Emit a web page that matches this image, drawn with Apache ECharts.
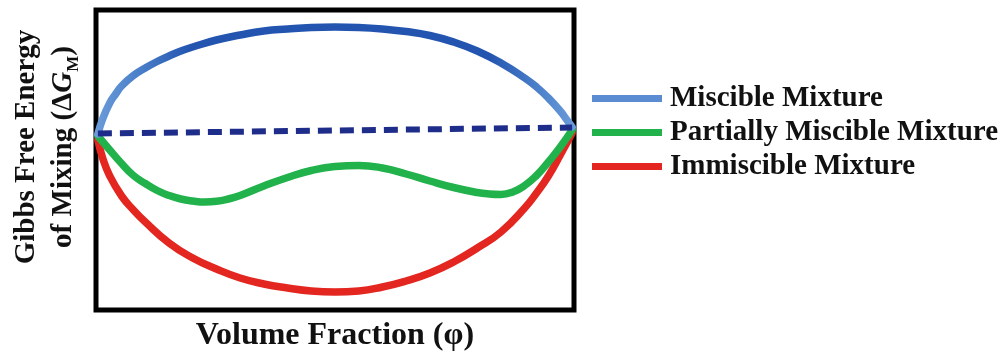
<!DOCTYPE html>
<html>
<head>
<meta charset="utf-8">
<script src="https://cdn.jsdelivr.net/npm/echarts@6/dist/echarts.min.js"></script>
<style>
html,body{margin:0;padding:0;background:#fff;}
#c{width:1007px;height:356px;}
</style>
</head>
<body>
<div id="c"></div>
<script>
// Volume fraction (phi) and Gibbs free energy of mixing (arbitrary units)
var miscible = [
  [0.000,-0.04],[0.010,0.11],[0.025,0.27],[0.0375,0.36],[0.050,0.44],[0.075,0.545],
  [0.100,0.62],[0.125,0.685],[0.150,0.74],[0.175,0.79],[0.200,0.83],[0.250,0.90],
  [0.300,0.95],[0.350,0.99],[0.400,1.01],[0.450,1.025],[0.500,1.03],[0.550,1.025],
  [0.600,1.01],[0.650,0.985],[0.700,0.945],[0.750,0.88],[0.800,0.79],[0.850,0.67],
  [0.900,0.52],[0.925,0.43],[0.950,0.32],[0.975,0.19],[0.9875,0.11],[1.000,0.03]
];
var partial = [
  [0.000,-0.06],[0.025,-0.20],[0.050,-0.335],[0.075,-0.455],[0.100,-0.535],[0.125,-0.605],
  [0.150,-0.655],[0.175,-0.69],[0.200,-0.71],[0.225,-0.72],[0.250,-0.713],[0.275,-0.69],
  [0.300,-0.655],[0.350,-0.56],[0.400,-0.475],[0.450,-0.405],[0.500,-0.365],[0.550,-0.355],
  [0.600,-0.38],[0.650,-0.44],[0.700,-0.51],[0.750,-0.575],[0.800,-0.625],[0.825,-0.64],
  [0.850,-0.645],[0.875,-0.62],[0.900,-0.555],[0.925,-0.455],[0.950,-0.32],[0.975,-0.17],
  [1.000,0.00]
];
var immiscible = [
  [0.000,-0.10],[0.010,-0.28],[0.025,-0.46],[0.050,-0.66],[0.075,-0.80],[0.100,-0.92],
  [0.150,-1.13],[0.200,-1.28],[0.250,-1.39],[0.300,-1.48],[0.350,-1.54],[0.400,-1.58],
  [0.450,-1.61],[0.500,-1.62],[0.550,-1.61],[0.600,-1.57],[0.650,-1.51],[0.700,-1.43],
  [0.750,-1.32],[0.800,-1.18],[0.850,-1.02],[0.900,-0.78],[0.925,-0.63],[0.950,-0.46],
  [0.975,-0.25],[1.000,-0.03]
];
var ideal = [[0.000,-0.035],[1.000,0.025]];
var seriesNames = ['Miscible Mixture','Partially Miscible Mixture','Immiscible Mixture'];
var xTitle = 'Volume Fraction (\u03c6)';
var yTitle = 'Gibbs Free Energy\nof Mixing (\u0394{g|G}{s|M})';

var FONT = '"Liberation Serif", "Times New Roman", serif';
var chart = echarts.init(document.getElementById('c'), null, {renderer:'canvas'});
var blueGrad = new echarts.graphic.LinearGradient(0,0,1,0,[
  {offset:0,color:'#6c9cda'},{offset:0.08,color:'#4f84cc'},{offset:0.2,color:'#2355b0'},
  {offset:0.82,color:'#2355b0'},{offset:0.93,color:'#4f84cc'},{offset:1,color:'#6c9cda'}
]);
chart.setOption({
  animation:false,
  backgroundColor:'#fff',
  grid:{left:96,top:10,width:478,height:300,show:true,borderColor:'#000',borderWidth:5,
        backgroundColor:'#fff',containLabel:false,outerBoundsMode:'none'},
  legend:{
    orient:'vertical',left:592,top:84,padding:0,itemGap:5,
    itemWidth:70,itemHeight:7,icon:'rect',
    textStyle:{fontFamily:FONT,fontSize:29,fontWeight:'bold',color:'#111',lineHeight:29,padding:[0,0,0,3]},
    data:[
      {name:seriesNames[0],itemStyle:{color:'#5b8bd1'}},
      {name:seriesNames[1],itemStyle:{color:'#22b24c'}},
      {name:seriesNames[2],itemStyle:{color:'#e3261f'}}
    ]
  },
  xAxis:{type:'value',min:-0.004,max:1.004,
    name:xTitle,nameLocation:'middle',nameGap:10,
    nameTextStyle:{fontFamily:FONT,fontSize:32,fontWeight:'bold',color:'#111',verticalAlign:'top'},
    axisLine:{show:false},axisTick:{show:false},axisLabel:{show:false},splitLine:{show:false}},
  yAxis:{type:'value',min:-1.8,max:1.2,
    name:yTitle,nameLocation:'middle',nameGap:14,nameRotate:90,
    nameTextStyle:{fontFamily:FONT,fontSize:29,fontWeight:'bold',color:'#111',lineHeight:37,
      padding:[0,0,0,26],
      rich:{
        g:{fontFamily:FONT,fontSize:29,fontWeight:'bold',fontStyle:'italic',color:'#111',lineHeight:37},
        s:{fontFamily:FONT,fontSize:17,fontWeight:'bold',color:'#111',verticalAlign:'bottom',lineHeight:30}
      }},
    axisLine:{show:false},axisTick:{show:false},axisLabel:{show:false},splitLine:{show:false}},
  series:[
    {name:seriesNames[2],type:'line',data:immiscible,smooth:0.5,symbol:'none',
     itemStyle:{color:'#e3261f'},lineStyle:{color:'#e3261f',width:7.5,cap:'round'},z:2},
    {name:seriesNames[1],type:'line',data:partial,smooth:0.5,symbol:'none',
     itemStyle:{color:'#22b24c'},lineStyle:{color:'#22b24c',width:7.5,cap:'round'},z:3},
    {name:seriesNames[0],type:'line',data:miscible,smooth:0.5,symbol:'none',
     itemStyle:{color:'#5b8bd1'},lineStyle:{color:blueGrad,width:7.5,cap:'round'},z:4},
    {name:'Ideal',type:'line',data:ideal,symbol:'none',
     lineStyle:{color:'#1f2d8a',width:6,type:[14,8]},z:5}
  ]
});
</script>
</body>
</html>
